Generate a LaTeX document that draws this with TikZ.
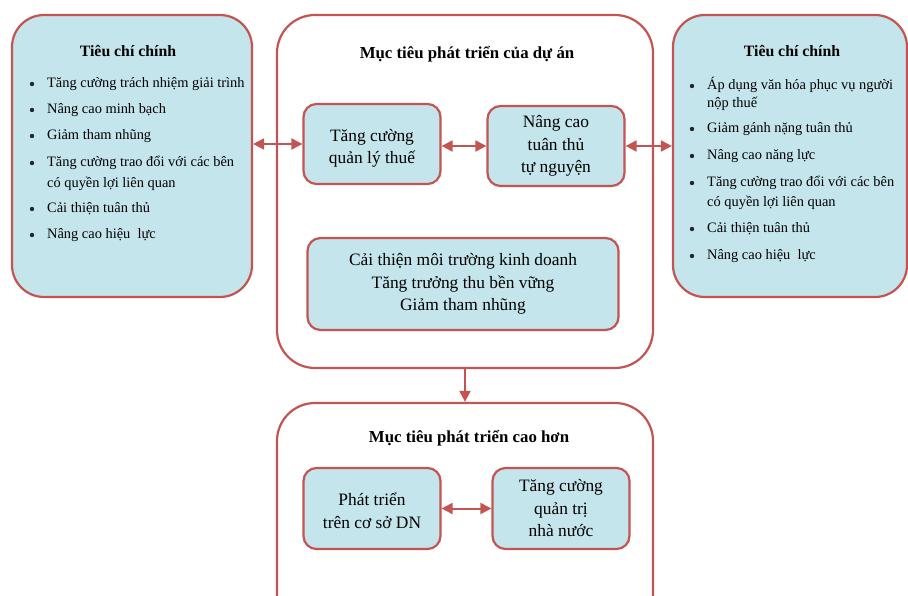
\documentclass[tikz,border=0pt]{standalone}
\usepackage{fontspec}
\setmainfont{Liberation Serif}
\usetikzlibrary{arrows.meta}
\definecolor{bred}{RGB}{196,84,82}
\definecolor{bblue}{RGB}{196,229,235}
\newcommand{\lowtext}[1]{\raisebox{-8.5pt}[0pt][0pt]{\begin{tabular}{@{}c@{}}#1\end{tabular}}}
\tikzset{
  outerbox/.style={draw=bred, line width=2.2pt, rounded corners=38pt, inner sep=0pt},
  sidebox/.style={draw=bred, fill=bblue, line width=2.2pt, rounded corners=32pt, inner sep=0pt},
  innerbox/.style={draw=bred, fill=bblue, line width=2.2pt, rounded corners=13pt, inner sep=0pt, align=center, font=\fontsize{17.4}{22.5}\selectfont},
  ttl/.style={font=\bfseries\fontsize{16.8}{19}\selectfont, inner sep=0pt, anchor=base},
  sttl/.style={font=\bfseries\fontsize{15.8}{19}\selectfont, inner sep=0pt, anchor=base},
  itm/.style={font=\fontsize{14.4}{17}\selectfont, inner sep=0pt, anchor=base west},
  bul/.style={circle, fill=black!85, minimum size=4.4pt, inner sep=0pt},
  biarrow/.style={draw=bred, line width=2pt, {Triangle[length=11pt,width=11pt]}-{Triangle[length=11pt,width=11pt]}},
  onearrow/.style={draw=bred, line width=2pt, -{Triangle[length=11pt,width=11pt]}}
}
\begin{document}
\begin{tikzpicture}[x=1pt,y=-1pt]
\useasboundingbox (0,0) rectangle (908,596);
\clip (0,0) rectangle (908,596);
% side boxes
\node[sidebox, minimum width=240pt, minimum height=282pt] (L) at (132,156) {};
\node[sidebox, minimum width=234pt, minimum height=282pt] (R) at (790,156) {};
% big boxes
\node[outerbox, minimum width=376pt, minimum height=353pt] (P) at (465,191.5) {};
\node[outerbox, minimum width=376pt, minimum height=240pt] (H) at (465,523) {};
% inner boxes
\node[innerbox, minimum width=137pt, minimum height=80pt] (A) at (372,144) {\lowtext{Tăng cường\\quản lý thuế}};
\node[innerbox, minimum width=137pt, minimum height=80pt] (B) at (556,146) {Nâng cao\\tuân thủ\\tự nguyện};
\node[innerbox, minimum width=311pt, minimum height=92pt] (E) at (463,284) {Cải thiện môi trường kinh doanh\\Tăng trưởng thu bền vững\\Giảm tham nhũng};
\node[innerbox, minimum width=137pt, minimum height=81pt] (C) at (372,508.5) {\lowtext{Phát triển\\trên cơ sở DN}};
\node[innerbox, minimum width=137pt, minimum height=81pt] (D) at (561,508.5) {Tăng cường\\quản trị\\nhà nước};
% titles
\node[sttl] (tL) at (128,57) {Tiêu chí chính};
\node[sttl] (tR) at (792,57) {Tiêu chí chính};
\node[ttl] (tP) at (467,59) {Mục tiêu phát triển của dự án};
\node[ttl] (tH) at (469,442) {Mục tiêu phát triển cao hơn};
% left list
\node[bul] (lb1) at (32,84) {};
\node[itm] (l1) at (47,88) {Tăng cường trách nhiệm giải trình};
\node[bul] (lb2) at (32,110) {};
\node[itm] (l2) at (47,114) {Nâng cao minh bạch};
\node[bul] (lb3) at (32,136) {};
\node[itm] (l3) at (47,140) {Giảm tham nhũng};
\node[bul] (lb4) at (32,163) {};
\node[itm] (l4) at (47,167) {Tăng cường trao đổi với các bên};
\node[itm] (l4b) at (47,188) {có quyền lợi liên quan};
\node[bul] (lb5) at (32,209) {};
\node[itm] (l5) at (47,213) {Cải thiện tuân thủ};
\node[bul] (lb6) at (32,235) {};
\node[itm] (l6) at (47,239) {Nâng cao hiệu\ \ lực};
% right list
\node[bul] (rb1) at (692,86) {};
\node[itm] (r1) at (707,90) {Áp dụng văn hóa phục vụ người};
\node[itm] (r1b) at (707,108) {nộp thuế};
\node[bul] (rb2) at (692,129) {};
\node[itm] (r2) at (707,133) {Giảm gánh nặng tuân thủ};
\node[bul] (rb3) at (692,156) {};
\node[itm] (r3) at (707,160) {Nâng cao năng lực};
\node[bul] (rb4) at (692,183) {};
\node[itm] (r4) at (707,187) {Tăng cường trao đổi với các bên};
\node[itm] (r4b) at (707,207) {có quyền lợi liên quan};
\node[bul] (rb5) at (692,229) {};
\node[itm] (r5) at (707,233) {Cải thiện tuân thủ};
\node[bul] (rb6) at (692,256) {};
\node[itm] (r6) at (707,260) {Nâng cao hiệu\ \ lực};
% connectors
\draw[biarrow] (L.east |- A.west) -- (A.west);
\draw[biarrow] (A.east |- B.west) -- (B.west);
\draw[biarrow] (B.east) -- (R.west |- B.east);
\draw[onearrow] (P.south) -- (H.north);
\draw[biarrow] (C.east) -- (D.west);
\end{tikzpicture}
\end{document}
